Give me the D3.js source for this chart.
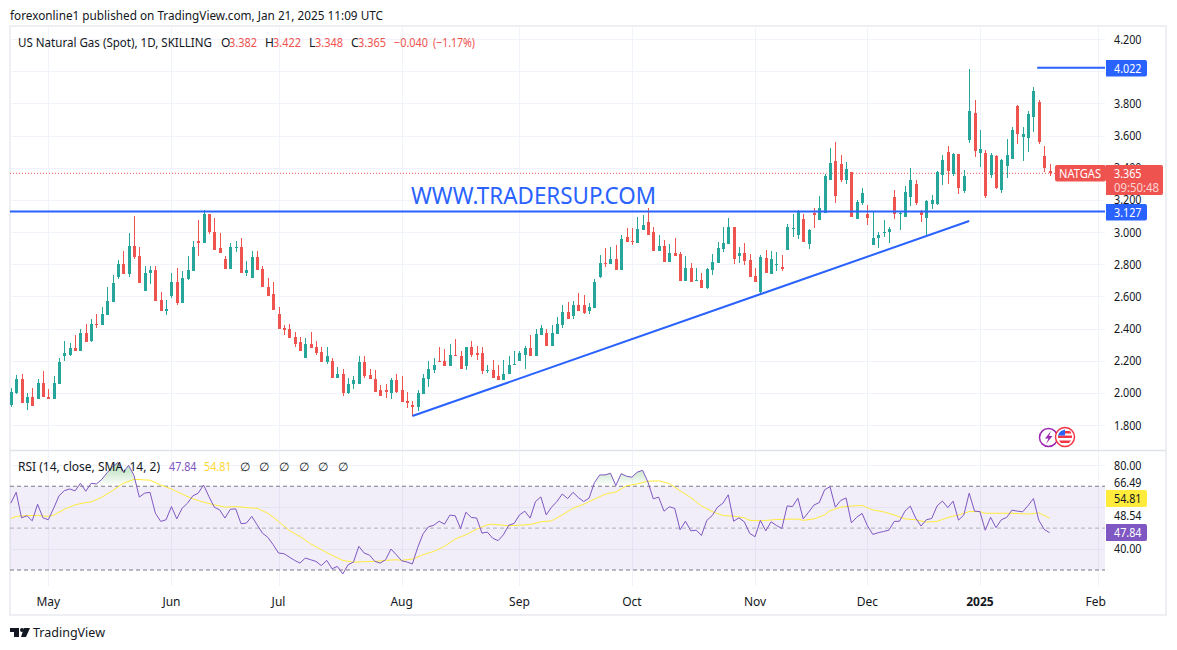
<!DOCTYPE html>
<html><head><meta charset="utf-8">
<script src="https://cdn.jsdelivr.net/npm/d3@7"></script>
<style>html,body{margin:0;padding:0;background:#fff}svg{display:block}text{font-family:"Noto Sans",sans-serif}</style>
</head><body><div id="c"></div>
<script>
const opens=[1.927,2.002,2.083,1.934,1.971,1.959,2.064,1.977,1.959,2.058,
2.226,2.238,2.276,2.257,2.369,2.325,2.425,2.419,2.487,2.562,
2.723,2.798,2.736,2.916,2.848,2.636,2.742,2.761,2.580,2.506,
2.605,2.692,2.556,2.705,2.755,2.947,2.929,3.109,3.003,2.898,
2.835,2.773,2.898,2.904,2.748,2.711,2.842,2.767,2.661,2.612,
2.493,2.406,2.394,2.350,2.319,2.214,2.301,2.282,2.251,2.189,
2.201,2.095,2.120,1.996,2.052,2.058,2.189,2.108,2.089,2.015,
2.015,2.002,2.077,2.015,1.952,1.927,1.909,1.990,2.089,2.145,
2.201,2.195,2.164,2.238,2.232,2.164,2.282,2.245,2.245,2.133,
2.145,2.102,2.077,2.114,2.170,2.195,2.238,2.276,2.226,2.357,
2.375,2.294,2.363,2.419,2.500,2.475,2.549,2.545,2.510,2.530,
2.720,2.807,2.801,2.832,2.764,2.969,2.944,2.932,3.012,3.062,
3.000,2.882,2.913,2.814,2.869,2.863,2.695,2.776,2.695,2.702,
2.652,2.764,2.807,2.894,2.926,3.031,2.851,2.869,2.826,2.726,
2.627,2.838,2.739,2.795,2.782,2.888,3.019,2.981,3.081,2.925,
3.116,3.075,3.118,3.323,3.442,3.425,3.325,3.375,3.083,3.182,
3.114,2.921,2.965,2.996,3.002,3.220,3.114,3.095,3.220,3.301,
3.126,3.089,3.176,3.176,3.357,3.500,3.363,3.487,3.257,3.574,
3.742,3.493,3.493,3.357,3.475,3.263,3.413,3.456,3.786,3.593,
3.587,3.717,3.811,3.475,3.382];
const highs=[2.027,2.108,2.120,2.002,2.027,2.083,2.133,2.021,2.102,2.214,
2.325,2.307,2.357,2.400,2.425,2.462,2.493,2.531,2.661,2.730,
2.829,2.879,2.991,3.097,2.904,2.786,2.786,2.786,2.624,2.580,
2.748,2.779,2.755,2.848,2.941,3.072,3.134,3.109,3.084,2.991,
2.848,2.929,2.941,2.960,2.817,2.879,2.879,2.786,2.711,2.692,
2.531,2.419,2.425,2.381,2.350,2.338,2.381,2.325,2.282,2.288,
2.214,2.158,2.151,2.095,2.102,2.232,2.226,2.151,2.139,2.046,
2.058,2.095,2.114,2.102,2.008,1.952,2.015,2.120,2.195,2.214,
2.282,2.270,2.301,2.332,2.257,2.288,2.325,2.294,2.288,2.176,
2.207,2.170,2.207,2.226,2.263,2.257,2.294,2.357,2.400,2.419,
2.400,2.419,2.469,2.549,2.562,2.568,2.618,2.610,2.556,2.708,
2.857,2.901,2.907,2.919,2.981,3.025,3.025,3.093,3.106,3.149,
3.031,2.981,2.950,2.925,2.963,2.876,2.851,2.807,2.776,2.745,
2.776,2.863,2.938,3.031,3.087,3.031,2.907,2.932,2.863,2.774,
2.857,2.888,2.882,2.876,2.857,3.050,3.112,3.137,3.112,3.019,
3.147,3.224,3.361,3.522,3.560,3.481,3.437,3.375,3.201,3.276,
3.170,3.133,3.002,3.077,3.033,3.263,3.126,3.288,3.400,3.325,
3.139,3.201,3.232,3.381,3.481,3.537,3.493,3.487,3.388,4.016,
3.823,3.636,3.512,3.493,3.481,3.456,3.580,3.655,3.792,3.655,
3.755,3.904,3.823,3.537,3.422];
const lows=[1.915,1.990,1.934,1.896,1.921,1.959,1.971,1.959,1.959,2.058,
2.195,2.226,2.257,2.257,2.313,2.313,2.406,2.419,2.487,2.562,
2.705,2.736,2.723,2.835,2.686,2.636,2.674,2.574,2.506,2.481,
2.587,2.549,2.556,2.699,2.755,2.848,2.929,2.985,2.891,2.867,
2.767,2.773,2.873,2.748,2.724,2.711,2.761,2.655,2.605,2.512,
2.400,2.357,2.344,2.282,2.257,2.214,2.276,2.238,2.189,2.182,
2.095,2.095,1.983,1.990,2.021,2.058,2.095,2.083,2.008,1.983,
1.965,1.959,1.996,1.940,1.903,1.859,1.890,1.990,2.039,2.126,
2.189,2.164,2.164,2.226,2.151,2.145,2.220,2.207,2.120,2.126,
2.095,2.077,2.077,2.114,2.170,2.195,2.151,2.226,2.226,2.357,
2.294,2.294,2.363,2.406,2.462,2.456,2.506,2.490,2.490,2.530,
2.714,2.782,2.801,2.764,2.764,2.938,2.919,2.932,3.012,2.981,
2.882,2.882,2.814,2.814,2.851,2.695,2.695,2.689,2.695,2.652,
2.645,2.733,2.807,2.876,2.926,2.801,2.807,2.795,2.720,2.689,
2.608,2.745,2.739,2.758,2.758,2.888,2.969,2.957,2.938,2.894,
3.027,3.075,3.118,3.323,3.180,3.313,3.301,3.095,3.083,3.170,
3.046,2.921,2.903,2.971,2.934,3.083,3.015,3.095,3.164,3.170,
3.064,2.977,3.145,3.170,3.294,3.301,3.350,3.238,3.245,3.556,
3.468,3.406,3.214,3.338,3.269,3.245,3.338,3.456,3.549,3.444,
3.500,3.624,3.549,3.375,3.348];
const closes=[2.008,2.083,1.934,1.971,1.921,2.064,1.971,1.959,2.064,2.189,
2.245,2.276,2.257,2.369,2.313,2.425,2.419,2.493,2.568,2.686,
2.798,2.736,2.916,2.842,2.686,2.748,2.761,2.574,2.506,2.524,
2.692,2.556,2.711,2.761,2.904,2.929,3.109,2.997,2.891,2.867,
2.773,2.904,2.904,2.748,2.761,2.842,2.761,2.655,2.605,2.512,
2.400,2.388,2.344,2.301,2.257,2.301,2.276,2.245,2.189,2.232,
2.095,2.120,1.996,2.058,2.077,2.189,2.102,2.083,2.008,1.983,
2.008,2.077,2.008,1.946,1.934,1.909,1.996,2.095,2.151,2.170,
2.189,2.164,2.238,2.232,2.151,2.282,2.238,2.238,2.133,2.145,
2.095,2.077,2.120,2.176,2.182,2.245,2.276,2.226,2.363,2.406,
2.294,2.369,2.425,2.500,2.462,2.549,2.506,2.495,2.534,2.689,
2.807,2.801,2.832,2.764,2.957,2.938,2.938,3.019,3.044,2.981,
2.882,2.913,2.814,2.869,2.851,2.695,2.776,2.689,2.702,2.652,
2.770,2.814,2.901,2.932,3.031,2.832,2.869,2.820,2.720,2.689,
2.845,2.745,2.832,2.801,2.770,3.031,3.025,3.131,2.938,3.012,
3.106,3.149,3.348,3.429,3.224,3.325,3.394,3.095,3.189,3.245,
3.089,2.965,2.983,3.002,3.021,3.114,3.120,3.251,3.325,3.182,
3.108,3.195,3.201,3.375,3.450,3.381,3.487,3.276,3.350,3.755,
3.506,3.518,3.226,3.481,3.276,3.450,3.481,3.636,3.612,3.612,
3.736,3.879,3.562,3.400,3.365];
const rsiValues=[61.9,67.1,54.9,55.9,53.5,61.4,54.9,54.0,59.5,65.4,
67.9,68.7,67.8,71.4,67.6,71.4,71.1,73.3,76.5,79.4,
81.3,76.8,80.0,75.2,64.8,66.7,67.1,57.1,53.2,54.0,
60.3,54.4,59.5,61.9,65.4,66.7,70.6,65.1,60.0,58.7,
54.8,59.0,59.2,52.1,52.4,55.6,51.6,47.6,45.6,42.1,
38.1,37.8,36.2,34.6,33.3,35.7,34.9,34.1,32.1,34.6,
30.6,31.7,28.1,32.5,33.8,41.3,38.1,37.1,34.1,33.3,
34.9,40.0,37.3,34.4,33.8,32.9,40.8,47.3,50.6,51.4,
53.3,51.9,56.2,55.9,49.8,57.6,55.1,54.8,47.6,48.1,
45.2,44.0,46.8,51.4,52.2,56.3,58.1,54.8,62.7,64.9,
56.3,60.0,62.7,66.3,64.1,67.1,64.6,62.7,64.3,71.7,
75.4,75.4,76.2,70.3,76.0,74.8,74.3,76.7,77.6,72.0,
64.0,64.8,58.1,60.2,59.4,49.2,53.3,48.7,49.0,46.5,
53.7,56.0,60.0,61.9,65.9,53.3,54.9,53.0,47.5,45.9,
53.7,48.7,53.0,51.3,49.8,60.6,60.3,64.3,54.4,57.6,
61.0,62.2,68.3,69.8,60.0,63.2,64.4,52.5,55.2,57.0,
51.1,47.0,47.8,48.4,49.0,53.2,53.3,58.1,60.5,54.8,
51.0,54.0,54.6,60.6,62.9,59.8,62.9,53.8,56.3,66.7,
58.1,57.9,49.0,55.2,50.2,54.0,55.1,58.6,58.1,57.8,
60.8,64.1,53.8,49.4,47.84];
const smaIndex=[0,1,3,5,7,8,10,12,14,15,17,19,21,23,26,28,30,32,34,36,38,40,42,44,46,48,50,52,54,56,58,60,62,64,66,68,70,72,
73,75,77,79,81,83,85,87,89,90,93,95,97,99,101,103,105,107,109,111,113,115,117,119,121,123,125,127,129,131,133,135,137,138,140,143,145,147,
148,150,152,153,155,157,159,161,163,165,167,169,171,173,175,177,179,181,182,185,187,190,192,194];
const smaValues=[54.6,55.6,56,56,55.6,56.2,59,61.1,62.2,62.5,64.8,67.9,71.4,73.3,72.9,70.6,68.7,66.2,64,62.4,61.1,60,60.3,59.8,59.5,57.1,53.2,48.9,46,42.5,39.7,37,34.6,33.7,34,34.1,34.6,34.9,
34.6,35.2,37.3,38.9,41.3,44.8,46.8,49.5,51.6,51.9,51.1,51.4,51.7,53,53.5,56.3,59.5,61.4,63.8,66.2,67.3,70.2,71.1,72.4,72.6,71.3,67.9,64.6,60.6,57.9,56,55.7,54.9,53.7,53.5,54.1,54.3,54.3,
53.7,54.4,56.3,58.3,60,60.6,60.8,58.7,57.8,56.3,54.4,54,52.9,53.2,55.1,56.3,57.9,57.9,57.1,57.1,57.1,56.7,57.3,54.81];
const priceTicks=[1.8,2.0,2.2,2.4,2.6,2.8,3.0,3.2,3.4,3.6,3.8,4.0,4.2];
const priceLabels=[1.8,2.0,2.2,2.4,2.6,2.8,3.0,3.2,3.4,3.6,3.8,4.2];
const rsiGrid=[40,60,80];
const rsiBand=[30,50,70];
const monthIndex=[7,30,50,73,95,116,139,160,181,203];
const monthLabels=["May","Jun","Jul","Aug","Sep","Oct","Nov","Dec","2025","Feb"];
const lastPrice=3.365, supportLevel=3.127, topLevel=4.022;
const trendIndex=[75,179], trendPrice=[1.856,3.068];
const topIndex=[191.7,203.9];

const RED="#ef5350",GREEN="#26a69a",BLUE="#2962ff",PURPLE="#7e57c2",YELLOW="#ffeb3b",GRID="#f0f3fa",INK="#131722";
const W=1177,H=650,L=10,R=1105;
const x=d3.scaleLinear().domain([0,194]).range([10.82,1049.5]);
const y=d3.scaleLinear().domain([1.8,4.2]).range([425,39]);
const r=d3.scaleLinear().domain([30,80]).range([570,465.3]);
const svg=d3.select("#c").append("svg").attr("width",W).attr("height",H);
const defs=svg.append("defs");
defs.append("clipPath").attr("id","top").append("rect").attr("x",L).attr("y",27).attr("width",R-L).attr("height",423);
defs.append("clipPath").attr("id","bot").append("rect").attr("x",L).attr("y",451).attr("width",R-L).attr("height",135);
defs.append("clipPath").attr("id","ob").append("rect").attr("x",L).attr("y",451).attr("width",R-L).attr("height",r(70)-451);
const grad=defs.append("linearGradient").attr("id","obg").attr("gradientUnits","userSpaceOnUse")
 .attr("x1",0).attr("x2",0).attr("y1",r(80)).attr("y2",r(70));
grad.append("stop").attr("offset",0).attr("stop-color","#4caf50").attr("stop-opacity",.38);
grad.append("stop").attr("offset",1).attr("stop-color","#4caf50").attr("stop-opacity",0);

function t(s,px,py,o={}){return svg.append("text").attr("x",px).attr("y",py).attr("font-size",o.size||12).attr("fill",o.fill||INK)
 .attr("text-anchor",o.anchor||"start").attr("font-weight",o.weight||400).attr("dominant-baseline","central").text(s)
 .call(n=>{if(o.len)n.attr("textLength",o.len).attr("lengthAdjust","spacingAndGlyphs");});}

// frame
svg.append("rect").attr("x",10).attr("y",26).attr("width",1156).attr("height",589).attr("fill","none").attr("stroke","#e8eaf0").attr("stroke-width",1.5);
svg.append("line").attr("x1",10).attr("x2",1166).attr("y1",450.5).attr("y2",450.5).attr("stroke","#e0e3eb").attr("stroke-width",1.5);

// grids
const gg=svg.append("g").attr("shape-rendering","crispEdges");
gg.selectAll(".h").data(priceTicks).join("line").attr("x1",L).attr("x2",R).attr("y1",d=>Math.round(y(d))+.5).attr("y2",d=>Math.round(y(d))+.5).attr("stroke",GRID);
gg.selectAll(".h2").data(rsiGrid).join("line").attr("x1",L).attr("x2",R).attr("y1",d=>Math.round(r(d))+.5).attr("y2",d=>Math.round(r(d))+.5).attr("stroke",GRID);
gg.selectAll(".v").data(monthIndex).join("line").attr("x1",d=>Math.round(x(d))+.5).attr("x2",d=>Math.round(x(d))+.5).attr("y1",27).attr("y2",450).attr("stroke",GRID);
gg.selectAll(".v2").data(monthIndex).join("line").attr("x1",d=>Math.round(x(d))+.5).attr("x2",d=>Math.round(x(d))+.5).attr("y1",451).attr("y2",586).attr("stroke",GRID);

// lines on price pane
const pane=svg.append("g").attr("clip-path","url(#top)");
pane.append("line").attr("x1",L).attr("x2",R).attr("y1",y(lastPrice)).attr("y2",y(lastPrice)).attr("stroke",RED).attr("stroke-dasharray","1 2");
// candles
const cg=pane.append("g").attr("shape-rendering","crispEdges");
const idx=d3.range(opens.length);
const col=i=>closes[i]>=opens[i]?GREEN:RED;
cg.selectAll(".w").data(idx).join("rect").attr("x",i=>Math.round(x(i))).attr("width",1)
 .attr("y",i=>y(highs[i])).attr("height",i=>y(lows[i])-y(highs[i])).attr("fill",col);
cg.selectAll(".b").data(idx).join("rect").attr("x",i=>Math.round(x(i))-1).attr("width",3)
 .attr("y",i=>y(Math.max(opens[i],closes[i]))).attr("height",i=>Math.max(1,Math.abs(y(opens[i])-y(closes[i])))).attr("fill",col);
// drawings
pane.append("line").attr("x1",L).attr("x2",R).attr("y1",y(supportLevel)).attr("y2",y(supportLevel)).attr("stroke",BLUE).attr("stroke-width",2);
pane.append("line").attr("x1",x(topIndex[0])).attr("x2",R).attr("y1",y(topLevel)).attr("y2",y(topLevel)).attr("stroke",BLUE).attr("stroke-width",2);
pane.append("line").attr("x1",x(trendIndex[0])).attr("x2",x(trendIndex[1])).attr("y1",y(trendPrice[0])).attr("y2",y(trendPrice[1])).attr("stroke",BLUE).attr("stroke-width",2);
t("WWW.TRADERSUP.COM",411,195,{size:23,fill:BLUE,len:245});

// RSI
svg.append("rect").attr("x",L).attr("y",r(70)).attr("width",R-L).attr("height",r(30)-r(70)).attr("fill",PURPLE).attr("fill-opacity",.1);
[[70,"#787b86",1],[30,"#787b86",1],[50,"#787b86",.55]].forEach(([v,c,o])=>svg.append("line").attr("x1",L).attr("x2",R).attr("y1",r(v)).attr("y2",r(v)).attr("stroke",c).attr("stroke-opacity",o).attr("stroke-dasharray","4 3"));
const rp=svg.append("g").attr("clip-path","url(#bot)");
rp.append("path").attr("clip-path","url(#ob)").attr("fill","url(#obg)")
 .attr("d",d3.area().x((d,i)=>x(i)).y0(r(70)).y1(d=>r(d))(rsiValues));
rp.append("path").attr("fill","none").attr("stroke",YELLOW).attr("stroke-width",1)
 .attr("d",d3.line().x(d=>x(d)).y((d,i)=>r(smaValues[i]))(smaIndex));
rp.append("path").attr("fill","none").attr("stroke",PURPLE).attr("stroke-width",1)
 .attr("d",d3.line().x((d,i)=>x(i)).y(d=>r(d))(rsiValues));

// axis labels
priceLabels.forEach(v=>t(v.toFixed(3),1114,y(v),{len:27.5}));
function tag(px,py,w,h,fill,rad){svg.append("path").attr("fill",fill)
 .attr("d",`M${px},${py}H${px+w-rad}Q${px+w},${py} ${px+w},${py+rad}V${py+h-rad}Q${px+w},${py+h} ${px+w-rad},${py+h}H${px}Z`);}
tag(1106,60,41,16.5,BLUE,2);t("4.022",1114,68.5,{fill:"#fff",len:27.5});
tag(1106,204,41,16.5,BLUE,2);t("3.127",1114,212.5,{fill:"#fff",len:27.5});
svg.append("rect").attr("x",1055).attr("y",165).attr("width",51).attr("height",16.5).attr("rx",2).attr("fill",RED);
t("NATGAS",1059,173.5,{fill:"#fff",len:42});
tag(1106,165,57,30,RED,2);t("3.365",1114,173,{fill:"#fff",len:27.5});t("09:50:48",1114,187,{fill:"#fff",size:12,len:45}).attr("fill-opacity",.75);

t("80.00",1114,465.5,{len:27.5});t("66.49",1114,482,{len:27.5});t("48.54",1114,515.5,{len:27.5});t("40.00",1114,548.5,{len:27.5});
tag(1106,490,41,17,YELLOW,2);t("54.81",1114,498.5,{len:27.5});
tag(1106,524,41,17,PURPLE,2);t("47.84",1114,532.5,{fill:"#fff",len:27.5});

// time labels
monthIndex.forEach((d,i)=>t(monthLabels[i],x(d)-(monthLabels[i]==="Feb"?2:0),601,{anchor:"middle",weight:monthLabels[i]==="2025"?700:400}));

// headers
t("forexonline1 published on TradingView.com, Jan 21, 2025 11:09 UTC",10,15,{len:373});
t("US Natural Gas (Spot), 1D, SKILLING",18,42,{len:194});
[["O",221,INK,0],["3.382",229,RED,28],["H",265,INK,0],["3.422",273,RED,28],["L",309,INK,0],["3.348",315,RED,28],["C",351,INK,0],["3.365",358,RED,28],["−0.040",394,RED,34],["(−1.17%)",433,RED,42]]
 .forEach(([s,px,c,w])=>t(s,px,42,w?{fill:c,len:w}:{fill:c}));
t("RSI (14, close, SMA, 14, 2)",18,466,{len:142});
t("47.84",169,466,{fill:PURPLE,len:27.5});t("54.81",204,466,{fill:"#fdd835",len:27.5});
[245,264,284,304,323,343].forEach(px=>t("∅",px,466,{anchor:"middle"}));

// event icons
const ig=svg.append("g");
ig.append("circle").attr("cx",1048.5).attr("cy",437.5).attr("r",9).attr("fill","#fff").attr("stroke","#9c27b0").attr("stroke-width",1.5);
ig.append("path").attr("d","M1051,431L1045,438.5H1048.5L1046,444L1052.5,436H1049Z").attr("fill","#9c27b0");
ig.append("circle").attr("cx",1065).attr("cy",437).attr("r",9.5).attr("fill","#fff").attr("stroke","#f23645").attr("stroke-width",1.5);
ig.append("path").attr("d","M1058,435.5H1072V438H1058ZM1059,440.5H1071L1069,443H1061Z").attr("fill","#f23645");
ig.append("path").attr("d","M1061,431L1065,429.5V435.5H1058Q1058.5,433 1061,431Z").attr("fill","#2962ff");
ig.append("path").attr("d","M1065,431H1070L1071.5,433.5H1065Z").attr("fill","#f23645");

// TradingView logo
const lg=svg.append("g").attr("fill",INK);
lg.append("path").attr("d","M10,628H19V637H14V632H10Z");
lg.append("circle").attr("cx",22).attr("cy",630).attr("r",2);
lg.append("path").attr("d","M24,628H30L26,637H21Z");
t("TradingView",33,632,{size:13,len:72});
</script></body></html>
